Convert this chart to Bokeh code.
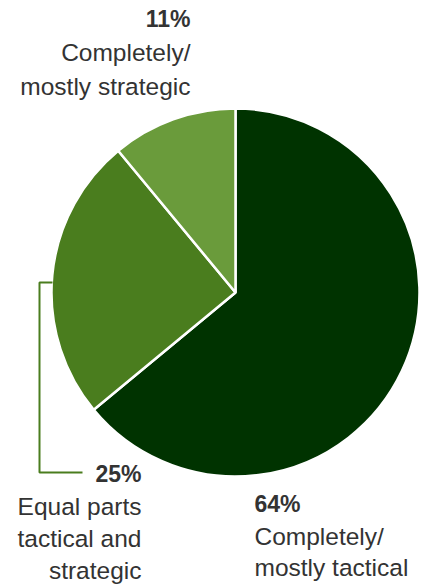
import numpy as np
from bokeh.plotting import figure
from bokeh.models import ColumnDataSource
from bokeh.core.properties import value
from bokeh.embed import file_html
from bokeh.resources import INLINE

# ---- data ----
categories = ["Completely/\nmostly tactical", "Equal parts\ntactical and\nstrategic", "Completely/\nmostly strategic"]
shares = [64, 25, 11]
pct_labels = ["64%", "25%", "11%"]
colors = ["#003300", "#4a7d1e", "#6a9b3b"]

W, H = 425, 587
p = figure(width=W, height=H, x_range=(0, W), y_range=(0, H),
           output_backend="svg", toolbar_location=None, min_border=0)
p.axis.visible = False
p.grid.visible = False
p.outline_line_color = None
p.background_fill_color = "white"

cx, cy, r = 235, H - 292, 184
frac = np.array(shares) / sum(shares)
cum = np.concatenate([[0], np.cumsum(frac)])
start = np.pi / 2 - cum[:-1] * 2 * np.pi
end = np.pi / 2 - cum[1:] * 2 * np.pi
src = ColumnDataSource(dict(start=start, end=end, color=colors))
p.wedge(x=cx, y=cy, radius=r, start_angle="start", end_angle="end",
        direction="clock", fill_color="color", line_color="white", line_width=2.5,
        source=src)

# connector for the 25% label
p.line(x=[52, 39, 39, 82], y=[H - 282, H - 282, H - 472, H - 472],
       line_color="#4a7d1e", line_width=2)

font = value("Liberation Sans")
txt_color = "#333333"

def label(x, y_base, pct, lines, align, gap1=33, gap=32):
    y_base -= 9
    p.text(x=[x], y=[H - y_base], text=[pct], text_font=font, text_font_size="23px",
           text_font_style="bold", text_color=txt_color, text_align=align,
           text_baseline="alphabetic")
    for i, ln in enumerate(lines):
        p.text(x=[x], y=[H - (y_base + gap1 + gap * i)], text=[ln], text_font=font,
               text_font_size="24.5px", text_color=txt_color, text_align=align,
               text_baseline="alphabetic")

label(190, 27, pct_labels[2], categories[2].split("\n"), "right", gap1=34, gap=34)
label(141, 482, pct_labels[1], categories[1].split("\n"), "right")
label(254, 512, pct_labels[0], categories[0].split("\n"), "left", gap1=33, gap=31)

open("out.html", "w").write(file_html(p, INLINE))
